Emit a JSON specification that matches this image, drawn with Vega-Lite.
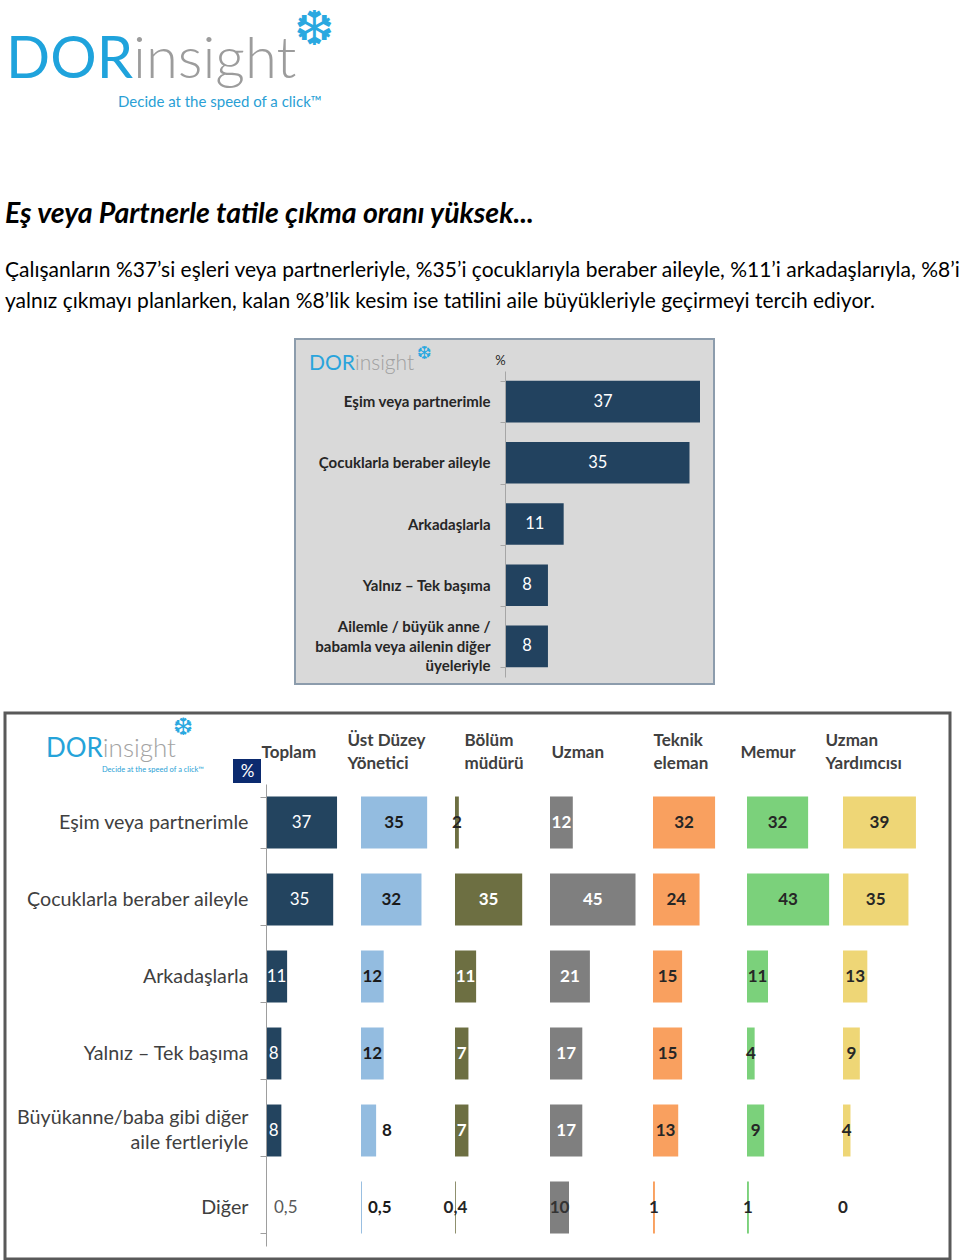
{
  "$schema": "https://vega.github.io/schema/vega-lite/v6.json",
  "background": "#ffffff",
  "padding": {"left": 3, "top": 0, "right": 0, "bottom": 0},
  "config": {
    "font": "Lato",
    "view": {"stroke": null},
    "axis": {"labelFont": "Lato", "titleFont": "Lato"},
    "locale": {"number": {"decimal": ",", "thousands": ".", "grouping": [3], "currency": ["", " TL"]}}
  },
  "datasets": {
    "logo": [{"a": "DOR", "b": "insight", "f": "❆", "tag": "Decide at the speed of a click™", "pct": "%"}],
    "genel": [
      {"cat": "Eşim veya partnerimle", "v": 37},
      {"cat": "Çocuklarla beraber aileyle", "v": 35},
      {"cat": "Arkadaşlarla", "v": 11},
      {"cat": "Yalnız – Tek başıma", "v": 8},
      {"cat": "Ailemle / büyük anne / babamla veya ailenin diğer üyeleriyle", "v": 8}
    ],
    "meslek": [
      {"g": "Toplam", "c": "Eşim veya partnerimle", "v": 37},
      {"g": "Toplam", "c": "Çocuklarla beraber aileyle", "v": 35},
      {"g": "Toplam", "c": "Arkadaşlarla", "v": 11},
      {"g": "Toplam", "c": "Yalnız – Tek başıma", "v": 8},
      {"g": "Toplam", "c": "Büyükanne/baba gibi diğer aile fertleriyle", "v": 8},
      {"g": "Toplam", "c": "Diğer", "v": 0.5},
      {"g": "Üst Düzey Yönetici", "c": "Eşim veya partnerimle", "v": 35},
      {"g": "Üst Düzey Yönetici", "c": "Çocuklarla beraber aileyle", "v": 32},
      {"g": "Üst Düzey Yönetici", "c": "Arkadaşlarla", "v": 12},
      {"g": "Üst Düzey Yönetici", "c": "Yalnız – Tek başıma", "v": 12},
      {"g": "Üst Düzey Yönetici", "c": "Büyükanne/baba gibi diğer aile fertleriyle", "v": 8},
      {"g": "Üst Düzey Yönetici", "c": "Diğer", "v": 0.5},
      {"g": "Bölüm müdürü", "c": "Eşim veya partnerimle", "v": 2},
      {"g": "Bölüm müdürü", "c": "Çocuklarla beraber aileyle", "v": 35},
      {"g": "Bölüm müdürü", "c": "Arkadaşlarla", "v": 11},
      {"g": "Bölüm müdürü", "c": "Yalnız – Tek başıma", "v": 7},
      {"g": "Bölüm müdürü", "c": "Büyükanne/baba gibi diğer aile fertleriyle", "v": 7},
      {"g": "Bölüm müdürü", "c": "Diğer", "v": 0.4},
      {"g": "Uzman", "c": "Eşim veya partnerimle", "v": 12},
      {"g": "Uzman", "c": "Çocuklarla beraber aileyle", "v": 45},
      {"g": "Uzman", "c": "Arkadaşlarla", "v": 21},
      {"g": "Uzman", "c": "Yalnız – Tek başıma", "v": 17},
      {"g": "Uzman", "c": "Büyükanne/baba gibi diğer aile fertleriyle", "v": 17},
      {"g": "Uzman", "c": "Diğer", "v": 10},
      {"g": "Teknik eleman", "c": "Eşim veya partnerimle", "v": 32},
      {"g": "Teknik eleman", "c": "Çocuklarla beraber aileyle", "v": 24},
      {"g": "Teknik eleman", "c": "Arkadaşlarla", "v": 15},
      {"g": "Teknik eleman", "c": "Yalnız – Tek başıma", "v": 15},
      {"g": "Teknik eleman", "c": "Büyükanne/baba gibi diğer aile fertleriyle", "v": 13},
      {"g": "Teknik eleman", "c": "Diğer", "v": 1},
      {"g": "Memur", "c": "Eşim veya partnerimle", "v": 32},
      {"g": "Memur", "c": "Çocuklarla beraber aileyle", "v": 43},
      {"g": "Memur", "c": "Arkadaşlarla", "v": 11},
      {"g": "Memur", "c": "Yalnız – Tek başıma", "v": 4},
      {"g": "Memur", "c": "Büyükanne/baba gibi diğer aile fertleriyle", "v": 9},
      {"g": "Memur", "c": "Diğer", "v": 1},
      {"g": "Uzman Yardımcısı", "c": "Eşim veya partnerimle", "v": 39},
      {"g": "Uzman Yardımcısı", "c": "Çocuklarla beraber aileyle", "v": 35},
      {"g": "Uzman Yardımcısı", "c": "Arkadaşlarla", "v": 13},
      {"g": "Uzman Yardımcısı", "c": "Yalnız – Tek başıma", "v": 9},
      {"g": "Uzman Yardımcısı", "c": "Büyükanne/baba gibi diğer aile fertleriyle", "v": 4},
      {"g": "Uzman Yardımcısı", "c": "Diğer", "v": 0}
    ]
  },
  "spacing": 16,
  "vconcat": [
    {
      "spacing": 19,
      "vconcat": [
        {
          "width": 360,
          "height": 112,
          "data": {"name": "logo"},
          "title": {
            "text": "Eş veya Partnerle tatile çıkma oranı yüksek...",
            "subtitle": [
              "Çalışanların %37’si eşleri veya partnerleriyle, %35’i çocuklarıyla beraber aileyle, %11’i arkadaşlarıyla, %8’i",
              "yalnız çıkmayı planlarken, kalan %8’lik kesim ise tatilini aile büyükleriyle geçirmeyi tercih ediyor."
            ],
            "orient": "bottom",
            "anchor": "start",
            "frame": "group",
            "offset": 88,
            "font": "Lato",
            "fontSize": 28.5,
            "fontWeight": "bold",
            "fontStyle": "italic",
            "color": "#000000",
            "subtitleFont": "Lato",
            "subtitleFontSize": 21,
            "subtitleColor": "#000000",
            "subtitleLineHeight": 31,
            "subtitlePadding": 31
          },
          "layer": [
            {"mark": {"type": "text", "align": "right", "baseline": "alphabetic", "dx": -52, "dy": 22, "fontSize": 58, "color": "#1FA3DC", "font": "Lato"}, "encoding": {"text": {"field": "a"}}},
            {"mark": {"type": "text", "align": "left", "baseline": "alphabetic", "dx": -52, "dy": 22, "fontSize": 58, "fontWeight": 300, "color": "#9C9C9C", "font": "Lato"}, "encoding": {"text": {"field": "b"}}},
            {"mark": {"type": "text", "align": "center", "baseline": "middle", "dx": 129, "dy": -25, "fontSize": 48, "color": "#2AA8E0", "font": "DejaVu Sans"}, "encoding": {"text": {"field": "f"}}},
            {"mark": {"type": "text", "align": "left", "baseline": "middle", "dx": -67, "dy": 46, "fontSize": 15, "color": "#2A9FD5", "font": "Lato"}, "encoding": {"text": {"field": "tag"}}}
          ]
        },
        {
          "spacing": 4,
          "hconcat": [
            {"width": 285, "height": 345, "view": {"fill": "#ffffff", "stroke": null}, "data": {"values": []}, "mark": "point"},
            {
              "width": 419,
              "height": 345,
              "view": {"fill": "#D9D9D9", "stroke": "#8C9CAC", "strokeWidth": 2},
              "resolve": {"scale": {"x": "independent"}, "axis": {"x": "independent"}},
              "layer": [
                {
                  "data": {"name": "genel"},
                  "mark": {"type": "bar", "color": "#22425F"},
                  "encoding": {
                    "y": {
                      "field": "cat", "type": "nominal",
                      "scale": {"domain": ["Eşim veya partnerimle", "Çocuklarla beraber aileyle", "Arkadaşlarla", "Yalnız – Tek başıma", "Ailemle / büyük anne / babamla veya ailenin diğer üyeleriyle"], "range": [32, 338], "paddingInner": 0.32, "paddingOuter": 0.16},
                      "axis": {
                        "offset": -210, "title": "%", "titleAngle": 0, "titleX": -5, "titleY": 21, "titleAlign": "center", "titleBaseline": "middle",
                        "titleFontSize": 13, "titleFontWeight": "normal", "titleColor": "#262626",
                        "domainColor": "#A6A6A6", "tickColor": "#A6A6A6", "tickSize": 5, "tickBand": "extent",
                        "labelPadding": 10, "labelFontSize": 15, "labelFontWeight": "bold", "labelColor": "#262626", "labelLimit": 300, "labelLineHeight": 19.5,
                        "labelOffset": {"condition": {"test": "datum.label === 'Ailemle / büyük anne / babamla veya ailenin diğer üyeleriyle'", "value": -19.5}, "value": 0},
                        "labelExpr": "datum.label === 'Ailemle / büyük anne / babamla veya ailenin diğer üyeleriyle' ? ['Ailemle / büyük anne /', 'babamla veya ailenin diğer', 'üyeleriyle'] : datum.label"
                      }
                    },
                    "x": {"field": "v", "type": "quantitative", "scale": {"domain": [0, 37], "range": [211, 405], "nice": false}, "axis": null}
                  }
                },
                {
                  "data": {"name": "genel"},
                  "mark": {"type": "text", "color": "#FFFFFF", "fontSize": 16.5, "baseline": "middle", "align": "center"},
                  "encoding": {
                    "y": {"field": "cat", "type": "nominal"},
                    "x": {"field": "v", "type": "quantitative", "scale": {"domain": [0, 37], "range": [211, 308], "nice": false}, "axis": null},
                    "text": {"field": "v", "type": "quantitative", "format": "~g"}
                  }
                },
                {
                  "data": {"name": "logo"},
                  "mark": {"type": "text", "align": "right", "baseline": "alphabetic", "fontSize": 21, "color": "#2AA4DC", "yOffset": -31.6},
                  "encoding": {
                    "x": {"datum": -28.8, "type": "quantitative", "scale": {"domain": [0, 37], "range": [211, 405], "nice": false}, "axis": null},
                    "y": {"datum": "Eşim veya partnerimle", "type": "nominal"},
                    "text": {"field": "a"}
                  }
                },
                {
                  "data": {"name": "logo"},
                  "mark": {"type": "text", "align": "left", "baseline": "alphabetic", "fontSize": 21, "fontWeight": 300, "color": "#A0A0A0", "yOffset": -31.6},
                  "encoding": {
                    "x": {"datum": -28.8, "type": "quantitative", "scale": {"domain": [0, 37], "range": [211, 405], "nice": false}, "axis": null},
                    "y": {"datum": "Eşim veya partnerimle", "type": "nominal"},
                    "text": {"field": "b"}
                  }
                },
                {
                  "data": {"name": "logo"},
                  "mark": {"type": "text", "align": "center", "baseline": "middle", "fontSize": 18, "font": "DejaVu Sans", "color": "#2AA8E0", "yOffset": -47.6},
                  "encoding": {
                    "x": {"datum": -15.6, "type": "quantitative", "scale": {"domain": [0, 37], "range": [211, 405], "nice": false}, "axis": null},
                    "y": {"datum": "Eşim veya partnerimle", "type": "nominal"},
                    "text": {"field": "f"}
                  }
                }
              ]
            }
          ]
        }
      ]
    },
    {
      "width": 945,
      "height": 546,
      "view": {"fill": "#ffffff", "stroke": "#595959", "strokeWidth": 3},
      "resolve": {"scale": {"x": "independent"}, "axis": {"x": "independent"}},
      "layer": [
        {
          "data": {"name": "meslek"},
          "transform": [{"filter": "datum.g === 'Toplam'"}],
          "mark": {"type": "bar", "color": "#23445F"},
          "encoding": {
            "y": {
              "field": "c", "type": "nominal",
              "scale": {"domain": ["Eşim veya partnerimle", "Çocuklarla beraber aileyle", "Arkadaşlarla", "Yalnız – Tek başıma", "Büyükanne/baba gibi diğer aile fertleriyle", "Diğer"], "range": [71, 533], "paddingInner": 0.325, "paddingOuter": 0.1625},
              "axis": {
                "offset": -261, "zindex": 1, "title": "%", "titleAngle": 0, "titleX": -19, "titleY": 58, "titleAlign": "center", "titleBaseline": "middle",
                "titleColor": "#FFFFFF", "titleFontSize": 17, "titleFontWeight": "normal",
                "domainColor": "#9E9E9E", "tickColor": "#9E9E9E", "tickSize": 6, "tickBand": "extent",
                "labelPadding": 12, "labelFontSize": 19.7, "labelColor": "#404040", "labelLimit": 400, "labelLineHeight": 25,
                "labelOffset": {"condition": {"test": "datum.label === 'Büyükanne/baba gibi diğer aile fertleriyle'", "value": -13}, "value": 0},
                "labelExpr": "datum.label === 'Büyükanne/baba gibi diğer aile fertleriyle' ? ['Büyükanne/baba gibi diğer', 'aile fertleriyle'] : datum.label"
              }
            },
            "x": {
              "field": "v", "type": "quantitative", "scale": {"domain": [0, 50], "range": [261, 357], "nice": false},
              "axis": {"orient": "top", "offset": -39, "values": [0], "domain": false, "ticks": false, "grid": false, "title": null, "labelExpr": "'Toplam'", "labelAlign": "left", "labelBaseline": "middle", "labelPadding": 0, "labelOffset": -5, "labelFontSize": 17, "labelFontWeight": "bold", "labelColor": "#404040", "labelLineHeight": 23, "labelFlush": false, "labelBound": false, "labelOverlap": false}
            }
          }
        },
        {
          "data": {"name": "logo"},
          "mark": {"type": "bar", "color": "#0B2A6F", "height": 24, "yOffset": -51.5},
          "encoding": {
            "x": {"datum": -17.2, "type": "quantitative", "scale": {"domain": [0, 50], "range": [261, 357], "nice": false}, "axis": null},
            "x2": {"datum": -2.6},
            "y": {"datum": "Eşim veya partnerimle", "type": "nominal"}
          }
        },
        {
          "data": {"name": "meslek"},
          "transform": [{"filter": "datum.g === 'Toplam' && datum.v >= 1"}],
          "mark": {"type": "text", "fontSize": 17, "color": "#FFFFFF", "baseline": "middle", "align": "center"},
          "encoding": {
            "y": {"field": "c", "type": "nominal"},
            "x": {"field": "v", "type": "quantitative", "scale": {"domain": [0, 50], "range": [261, 309], "nice": false}, "axis": null},
            "text": {"field": "v", "type": "quantitative", "format": "~g"}
          }
        },
        {
          "data": {"name": "meslek"},
          "transform": [{"filter": "datum.g === 'Toplam' && datum.v < 1"}],
          "mark": {"type": "text", "fontSize": 17, "color": "#595959", "baseline": "middle", "align": "left", "dx": 7},
          "encoding": {
            "y": {"field": "c", "type": "nominal"},
            "x": {"field": "v", "type": "quantitative", "scale": {"domain": [0, 50], "range": [261, 357], "nice": false}, "axis": null},
            "text": {"field": "v", "type": "quantitative", "format": "~g"}
          }
        },
        {
          "data": {"name": "meslek"},
          "transform": [{"filter": "datum.g === 'Üst Düzey Yönetici'"}],
          "mark": {"type": "bar", "color": "#93BCE0"},
          "encoding": {
            "y": {"field": "c", "type": "nominal"},
            "x": {
              "field": "v", "type": "quantitative", "scale": {"domain": [0, 50], "range": [356, 450.5], "nice": false},
              "axis": {"orient": "top", "offset": -27.5, "values": [0], "domain": false, "ticks": false, "grid": false, "title": null, "labelExpr": "['Üst Düzey', 'Yönetici']", "labelAlign": "left", "labelBaseline": "middle", "labelPadding": 0, "labelOffset": -14, "labelFontSize": 17, "labelFontWeight": "bold", "labelColor": "#404040", "labelLineHeight": 23, "labelFlush": false, "labelBound": false, "labelOverlap": false}
            }
          }
        },
        {
          "data": {"name": "meslek"},
          "transform": [{"filter": "datum.g === 'Üst Düzey Yönetici' && datum.v >= 10"}],
          "mark": {"type": "text", "fontSize": 17, "fontWeight": "bold", "color": "#1A1A1A", "baseline": "middle", "align": "center"},
          "encoding": {
            "y": {"field": "c", "type": "nominal"},
            "x": {"field": "v", "type": "quantitative", "scale": {"domain": [0, 50], "range": [356, 403.25], "nice": false}, "axis": null},
            "text": {"field": "v", "type": "quantitative", "format": "~g"}
          }
        },
        {
          "data": {"name": "meslek"},
          "transform": [{"filter": "datum.g === 'Üst Düzey Yönetici' && datum.v < 10"}],
          "mark": {"type": "text", "fontSize": 17, "fontWeight": "bold", "color": "#1A1A1A", "baseline": "middle", "align": "left", "dx": 6},
          "encoding": {
            "y": {"field": "c", "type": "nominal"},
            "x": {"field": "v", "type": "quantitative", "scale": {"domain": [0, 50], "range": [356, 450.5], "nice": false}, "axis": null},
            "text": {"field": "v", "type": "quantitative", "format": "~g"}
          }
        },
        {
          "data": {"name": "meslek"},
          "transform": [{"filter": "datum.g === 'Bölüm müdürü'"}],
          "mark": {"type": "bar", "color": "#6D6F42"},
          "encoding": {
            "y": {"field": "c", "type": "nominal"},
            "x": {
              "field": "v", "type": "quantitative", "scale": {"domain": [0, 50], "range": [450, 546], "nice": false},
              "axis": {"orient": "top", "offset": -27.5, "values": [0], "domain": false, "ticks": false, "grid": false, "title": null, "labelExpr": "['Bölüm', 'müdürü']", "labelAlign": "left", "labelBaseline": "middle", "labelPadding": 0, "labelOffset": 9, "labelFontSize": 17, "labelFontWeight": "bold", "labelColor": "#404040", "labelLineHeight": 23, "labelFlush": false, "labelBound": false, "labelOverlap": false}
            }
          }
        },
        {
          "data": {"name": "meslek"},
          "transform": [{"filter": "datum.g === 'Bölüm müdürü'"}],
          "mark": {"type": "text", "fontSize": 17, "fontWeight": "bold", "baseline": "middle", "align": "center"},
          "encoding": {
            "y": {"field": "c", "type": "nominal"},
            "x": {"field": "v", "type": "quantitative", "scale": {"domain": [0, 50], "range": [450, 498], "nice": false}, "axis": null},
            "text": {"field": "v", "type": "quantitative", "format": "~g"},
            "color": {"condition": {"test": "datum.v < 3", "value": "#262626"}, "value": "#FFFFFF"}
          }
        },
        {
          "data": {"name": "meslek"},
          "transform": [{"filter": "datum.g === 'Uzman'"}],
          "mark": {"type": "bar", "color": "#7F7F7F"},
          "encoding": {
            "y": {"field": "c", "type": "nominal"},
            "x": {
              "field": "v", "type": "quantitative", "scale": {"domain": [0, 50], "range": [545, 640], "nice": false},
              "axis": {"orient": "top", "offset": -39, "values": [0], "domain": false, "ticks": false, "grid": false, "title": null, "labelExpr": "'Uzman'", "labelAlign": "left", "labelBaseline": "middle", "labelPadding": 0, "labelOffset": 1, "labelFontSize": 17, "labelFontWeight": "bold", "labelColor": "#404040", "labelLineHeight": 23, "labelFlush": false, "labelBound": false, "labelOverlap": false}
            }
          }
        },
        {
          "data": {"name": "meslek"},
          "transform": [{"filter": "datum.g === 'Uzman'"}],
          "mark": {"type": "text", "fontSize": 17, "fontWeight": "bold", "baseline": "middle", "align": "center"},
          "encoding": {
            "y": {"field": "c", "type": "nominal"},
            "x": {"field": "v", "type": "quantitative", "scale": {"domain": [0, 50], "range": [545, 592.5], "nice": false}, "axis": null},
            "text": {"field": "v", "type": "quantitative", "format": "~g"},
            "color": {"condition": {"test": "datum.c === 'Diğer'", "value": "#333333"}, "value": "#FFFFFF"}
          }
        },
        {
          "data": {"name": "meslek"},
          "transform": [{"filter": "datum.g === 'Teknik eleman'"}],
          "mark": {"type": "bar", "color": "#F9A05F"},
          "encoding": {
            "y": {"field": "c", "type": "nominal"},
            "x": {
              "field": "v", "type": "quantitative", "scale": {"domain": [0, 50], "range": [648, 745], "nice": false},
              "axis": {"orient": "top", "offset": -27.5, "values": [0], "domain": false, "ticks": false, "grid": false, "title": null, "labelExpr": "['Teknik', 'eleman']", "labelAlign": "left", "labelBaseline": "middle", "labelPadding": 0, "labelOffset": 0, "labelFontSize": 17, "labelFontWeight": "bold", "labelColor": "#404040", "labelLineHeight": 23, "labelFlush": false, "labelBound": false, "labelOverlap": false}
            }
          }
        },
        {
          "data": {"name": "meslek"},
          "transform": [{"filter": "datum.g === 'Teknik eleman'"}],
          "mark": {"type": "text", "fontSize": 17, "fontWeight": "bold", "color": "#262626", "baseline": "middle", "align": "center"},
          "encoding": {
            "y": {"field": "c", "type": "nominal"},
            "x": {"field": "v", "type": "quantitative", "scale": {"domain": [0, 50], "range": [648, 696.5], "nice": false}, "axis": null},
            "text": {"field": "v", "type": "quantitative", "format": "~g"}
          }
        },
        {
          "data": {"name": "meslek"},
          "transform": [{"filter": "datum.g === 'Memur'"}],
          "mark": {"type": "bar", "color": "#7BD17B"},
          "encoding": {
            "y": {"field": "c", "type": "nominal"},
            "x": {
              "field": "v", "type": "quantitative", "scale": {"domain": [0, 50], "range": [742, 837.5], "nice": false},
              "axis": {"orient": "top", "offset": -39, "values": [0], "domain": false, "ticks": false, "grid": false, "title": null, "labelExpr": "'Memur'", "labelAlign": "left", "labelBaseline": "middle", "labelPadding": 0, "labelOffset": -7, "labelFontSize": 17, "labelFontWeight": "bold", "labelColor": "#404040", "labelLineHeight": 23, "labelFlush": false, "labelBound": false, "labelOverlap": false}
            }
          }
        },
        {
          "data": {"name": "meslek"},
          "transform": [{"filter": "datum.g === 'Memur'"}],
          "mark": {"type": "text", "fontSize": 17, "fontWeight": "bold", "color": "#262626", "baseline": "middle", "align": "center"},
          "encoding": {
            "y": {"field": "c", "type": "nominal"},
            "x": {"field": "v", "type": "quantitative", "scale": {"domain": [0, 50], "range": [742, 789.75], "nice": false}, "axis": null},
            "text": {"field": "v", "type": "quantitative", "format": "~g"}
          }
        },
        {
          "data": {"name": "meslek"},
          "transform": [{"filter": "datum.g === 'Uzman Yardımcısı'"}],
          "mark": {"type": "bar", "color": "#EED676"},
          "encoding": {
            "y": {"field": "c", "type": "nominal"},
            "x": {
              "field": "v", "type": "quantitative", "scale": {"domain": [0, 50], "range": [838, 931.5], "nice": false},
              "axis": {"orient": "top", "offset": -27.5, "values": [0], "domain": false, "ticks": false, "grid": false, "title": null, "labelExpr": "['Uzman', 'Yardımcısı']", "labelAlign": "left", "labelBaseline": "middle", "labelPadding": 0, "labelOffset": -18, "labelFontSize": 17, "labelFontWeight": "bold", "labelColor": "#404040", "labelLineHeight": 23, "labelFlush": false, "labelBound": false, "labelOverlap": false}
            }
          }
        },
        {
          "data": {"name": "meslek"},
          "transform": [{"filter": "datum.g === 'Uzman Yardımcısı'"}],
          "mark": {"type": "text", "fontSize": 17, "fontWeight": "bold", "color": "#262626", "baseline": "middle", "align": "center"},
          "encoding": {
            "y": {"field": "c", "type": "nominal"},
            "x": {"field": "v", "type": "quantitative", "scale": {"domain": [0, 50], "range": [838, 884.75], "nice": false}, "axis": null},
            "text": {"field": "v", "type": "quantitative", "format": "~g"}
          }
        },
        {
          "data": {"name": "logo"},
          "mark": {"type": "text", "align": "right", "baseline": "alphabetic", "fontSize": 26, "color": "#25A3D9", "yOffset": -65.5},
          "encoding": {
            "x": {"datum": -85, "type": "quantitative", "scale": {"domain": [0, 50], "range": [261, 357], "nice": false}, "axis": null},
            "y": {"datum": "Eşim veya partnerimle", "type": "nominal"},
            "text": {"field": "a"}
          }
        },
        {
          "data": {"name": "logo"},
          "mark": {"type": "text", "align": "left", "baseline": "alphabetic", "fontSize": 26, "fontWeight": 300, "color": "#A3A3A3", "yOffset": -65.5},
          "encoding": {
            "x": {"datum": -85, "type": "quantitative", "scale": {"domain": [0, 50], "range": [261, 357], "nice": false}, "axis": null},
            "y": {"datum": "Eşim veya partnerimle", "type": "nominal"},
            "text": {"field": "b"}
          }
        },
        {
          "data": {"name": "logo"},
          "mark": {"type": "text", "align": "center", "baseline": "middle", "fontSize": 24, "font": "DejaVu Sans", "color": "#2AA8E0", "yOffset": -94.5},
          "encoding": {
            "x": {"datum": -43.2, "type": "quantitative", "scale": {"domain": [0, 50], "range": [261, 357], "nice": false}, "axis": null},
            "y": {"datum": "Eşim veya partnerimle", "type": "nominal"},
            "text": {"field": "f"}
          }
        },
        {
          "data": {"name": "logo"},
          "mark": {"type": "text", "align": "center", "baseline": "middle", "fontSize": 7.5, "color": "#2A9FD5", "yOffset": -52.5},
          "encoding": {
            "x": {"datum": -58.9, "type": "quantitative", "scale": {"domain": [0, 50], "range": [261, 357], "nice": false}, "axis": null},
            "y": {"datum": "Eşim veya partnerimle", "type": "nominal"},
            "text": {"field": "tag"}
          }
        }
      ]
    }
  ]
}
